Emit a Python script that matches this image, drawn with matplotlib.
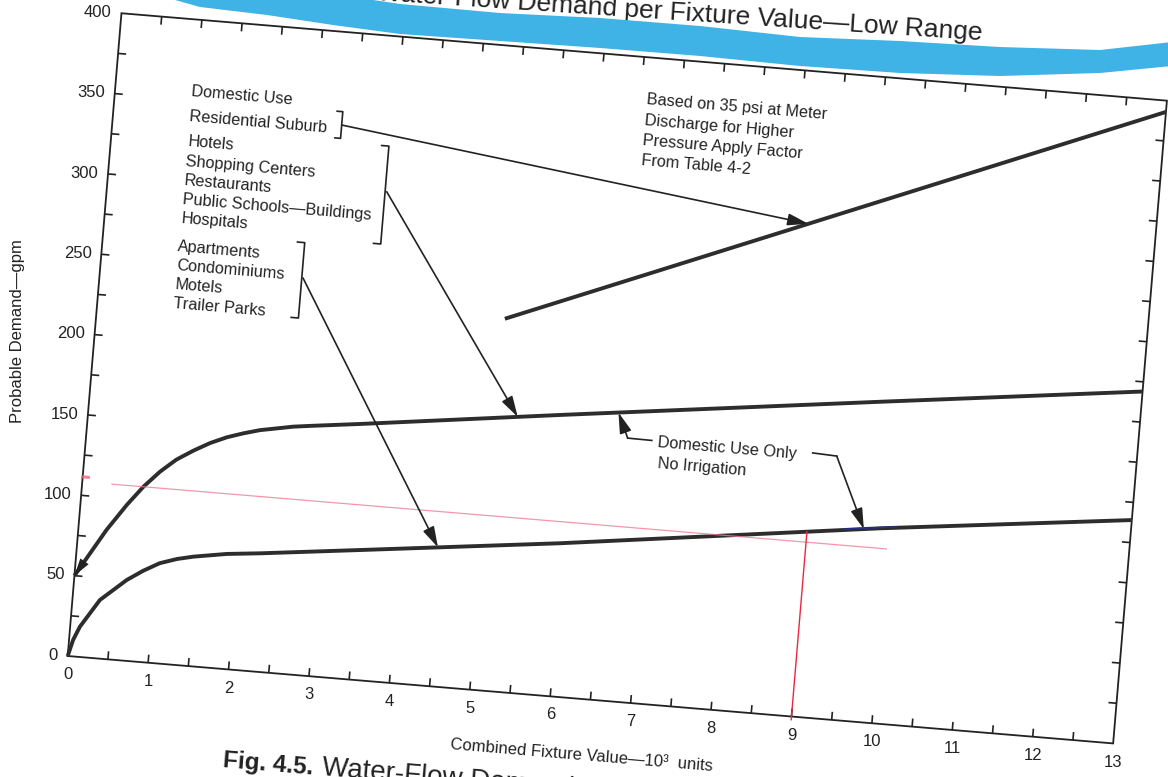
import numpy as np
import matplotlib
matplotlib.use("Agg")
import matplotlib.pyplot as plt
from matplotlib.transforms import Affine2D
from matplotlib.collections import LineCollection
from matplotlib.patches import Polygon

plt.rcParams['font.family'] = ['Liberation Sans', 'DejaVu Sans']

# ------------------------------------------------------------------ data
x_major = list(range(0, 14))
x_labels = [str(v) for v in x_major]
y_major = list(range(0, 401, 50))
y_labels = [str(v) for v in y_major]

# Domestic use - residential suburb
res_x = [5.05, 13.0]
res_y = [231.0, 393.0]

# Hotels, shopping centers, restaurants, public schools, hospitals
com_x = [0.0, 0.35, 0.575, 0.76, 0.95, 1.14, 1.34, 1.54, 1.74, 1.94, 2.14, 2.55,
         2.75, 3.37, 5.83, 9.77, 13.0]
com_y = [50.0, 80.0, 96.5, 108.5, 118.7, 127.0, 133.4, 139.0, 143.4, 146.7, 149.5,
         153.4, 154.7, 158.5, 174.4, 199.1, 219.0]

# Apartments, condominiums, motels, trailer parks
apt_x = [0.0, 0.05, 0.12, 0.34, 0.65, 0.845, 1.04, 1.25, 1.45, 1.86, 2.27, 3.5,
         5.96, 9.9, 13.0]
apt_y = [0.0, 10.2, 18.7, 36.3, 50.0, 56.6, 62.1, 65.6, 67.9, 71.3, 73.4, 80.6,
         95.1, 120.9, 139.0]

# pencil marks
red_h_y = 108.5
red_h_x = [0.37, 10.0]
red_v_x = 9.0

# ------------------------------------------------------------------ layout
W, H, DPI = 1168, 777, 100
ORIGIN = (67.7, 121.0)        # display position of (0, 0)
PX_X, PX_Y = 80.7, 1.6125     # pixels per data unit
TILT = -4.78                  # page tilt, degrees

INK = '#222222'
CURVE = '#2d2d2d'

fig = plt.figure(figsize=(W / DPI, H / DPI), dpi=DPI, facecolor='white')
ax = fig.add_axes([ORIGIN[0] / W, ORIGIN[1] / H, 13 * PX_X / W, 400 * PX_Y / H])
ax.set_autoscale_on(False)
ax.set_xlim(0, 13)
ax.set_ylim(0, 400)
ax.set_axis_off()

tr = ax.transData + Affine2D().rotate_deg_around(ORIGIN[0], ORIGIN[1], TILT)
page = Affine2D().scale(1, -1).translate(0, H)

# ------------------------------------------------------------------ frame & ticks
ax.plot([0, 13, 13, 0, 0], [0, 0, 400, 400, 0], color=INK, lw=1.3,
        transform=tr, clip_on=False, solid_joinstyle='miter')

tick_len_y = 5.0     # gpm
tick_len_x = 0.1     # 10^3 units
segs = []
for v in np.arange(0.5, 13, 0.5):
    segs.append([(v, 0), (v, tick_len_y)])
    segs.append([(v, 400), (v, 400 - tick_len_y)])
for v in np.arange(25, 400, 25):
    segs.append([(0, v), (tick_len_x, v)])
    segs.append([(13, v), (13 - tick_len_x, v)])
ax.add_collection(LineCollection(segs, colors=INK, linewidths=1.2,
                                 transform=tr, clip_on=False), autolim=False)

for v, s in zip(x_major, x_labels):
    ax.text(v + 0.02, -11.5, s, transform=tr, ha='center', va='center',
            fontsize=12, color=INK)
for v, s in zip(y_major, y_labels):
    ax.text(-0.12, v, s, transform=tr, ha='right', va='center',
            fontsize=12, color=INK)

ax.text(-0.95, 198, 'Probable Demand—gpm', transform=tr, rotation=90,
        ha='center', va='center', fontsize=12, color=INK)
ax.text(6.45, -35.2, 'Combined Fixture Value—10³  units', transform=tr,
        rotation=TILT, rotation_mode='anchor', ha='center', va='center',
        fontsize=12, color=INK)

# ------------------------------------------------------------------ curves
for xs, ys in [(res_x, res_y), (com_x, com_y), (apt_x, apt_y)]:
    ax.plot(xs, ys, color=CURVE, lw=2.8, transform=tr, clip_on=False,
            solid_capstyle='butt', solid_joinstyle='round', zorder=2)


def arrow(start, tip, lw=1.2):
    ax.annotate('', xy=tip, xytext=start, xycoords=tr, textcoords=tr,
                annotation_clip=False,
                arrowprops=dict(arrowstyle='-|>,head_length=0.9,head_width=0.26',
                                color=INK, lw=lw, shrinkA=0, shrinkB=0,
                                mutation_scale=14))


def bracket(x, y0, y1, serif=0.09):
    ax.plot([x - serif, x, x, x - serif], [y1, y1, y0, y0], color=INK, lw=1.2,
            transform=tr, clip_on=False)


def note(x, y, s, size=11.7, rot=TILT, **kw):
    ax.text(x, y, s, transform=tr, rotation=rot, rotation_mode='anchor',
            ha=kw.pop('ha', 'left'), va=kw.pop('va', 'center'),
            fontsize=size, color=INK, **kw)


# start of the commercial curve on the axis
arrow((0.14, np.interp(0.14, com_x, com_y)), (0.0, com_y[0]), lw=0)

# category labels
note(0.95, 355.0, 'Domestic Use')
note(0.95, 339.5, 'Residential Suburb')
for i, s in enumerate(['Hotels', 'Shopping Centers', 'Restaurants',
                       'Public Schools—Buildings', 'Hospitals']):
    note(0.95, 324.0 - 12.0 * i, s)
for i, s in enumerate(['Apartments', 'Condominiums', 'Motels', 'Trailer Parks']):
    note(0.94, 258.5 - 11.8 * i, s)

bracket(2.835, 334.0, 350.6, serif=0.07)
bracket(3.44, 270.8, 331.7)
bracket(2.50, 220.8, 267.7)

arrow((2.835, 342.3), (8.7, np.interp(8.7, res_x, res_y)))
arrow((3.46, 303.4), (5.31, np.interp(5.31, com_x, com_y)))
arrow((2.515, 245.8), (4.46, np.interp(4.46, apt_x, apt_y)))

# pressure note
for i, s in enumerate(['Based on 35 psi at Meter', 'Discharge for Higher',
                       'Pressure Apply Factor', 'From Table 4-2']):
    note(6.57, 373.5 - 12.6 * i, s)

# domestic use only
note(7.07, 162.2, 'Domestic Use Only')
note(7.08, 149.7, 'No Irrigation')
ax.plot([6.99, 6.69], [163.4, 163.6], color=INK, lw=1.2, transform=tr, clip_on=False)
arrow((6.69, 163.6), (6.55, np.interp(6.55, com_x, com_y)))
ax.plot([8.99, 9.29], [164.0, 163.3], color=INK, lw=1.2, transform=tr, clip_on=False)
arrow((9.29, 163.3), (9.7, np.interp(9.7, apt_x, apt_y)))

# pencil marks
ax.plot(red_h_x, [red_h_y, red_h_y], color='#f07c96', lw=0.9, alpha=0.8,
        transform=tr, clip_on=False, zorder=2.5)
ax.plot([0.0, 0.07], [111.5, 111.5], color='#f0607a', lw=2.2, alpha=0.8,
        transform=tr, clip_on=False)
ax.plot([red_v_x, red_v_x], [-2.0, np.interp(red_v_x, apt_x, apt_y)],
        color='#e8283f', lw=1.0, transform=tr, clip_on=False, zorder=2.5)
blue_x = [9.45, 10.1]
ax.plot(blue_x, np.interp(blue_x, apt_x, apt_y) + 0.6, color='#25308f', lw=1.0,
        transform=tr, clip_on=False, zorder=2.6)

# ------------------------------------------------------------------ captions
ax.text(10.65, 428.0, 'Water-Flow Demand per Fixture Value—Low Range', transform=tr,
        rotation=-3.8, rotation_mode='anchor', ha='right', va='baseline',
        fontsize=19, color=INK, zorder=3)
ax.text(2.02, -60.5, 'Fig. 4.5.', transform=tr, rotation=TILT,
        rotation_mode='anchor', ha='left', va='baseline', fontsize=17.5,
        fontweight='bold', color=INK)
ax.text(3.26, -60.5, 'Water-Flow Demand per Fixture Value—High Range', transform=tr,
        rotation=TILT, rotation_mode='anchor', ha='left', va='baseline',
        fontsize=20, color=INK)

# highlighter stroke across the heading
band_x = np.array([168, 200, 267, 333, 400, 500, 600, 700, 800, 900, 1000, 1100, 1172])
band_top = np.array([-30, -25, -18, -6, 4, 13, 18, 26, 37, 41, 47, 50, 42])
band_bot = np.array([-2, 7, 15, 25, 34, 41, 48, 56, 66, 73, 76, 73, 66])
poly = np.column_stack([np.r_[band_x, band_x[::-1]], np.r_[band_top, band_bot[::-1]]])
ax.add_patch(Polygon(poly, closed=True, facecolor='#3fb3e6', edgecolor='none',
                     transform=page, clip_on=False, zorder=4))

fig.savefig('out.png', dpi=DPI, facecolor='white')
